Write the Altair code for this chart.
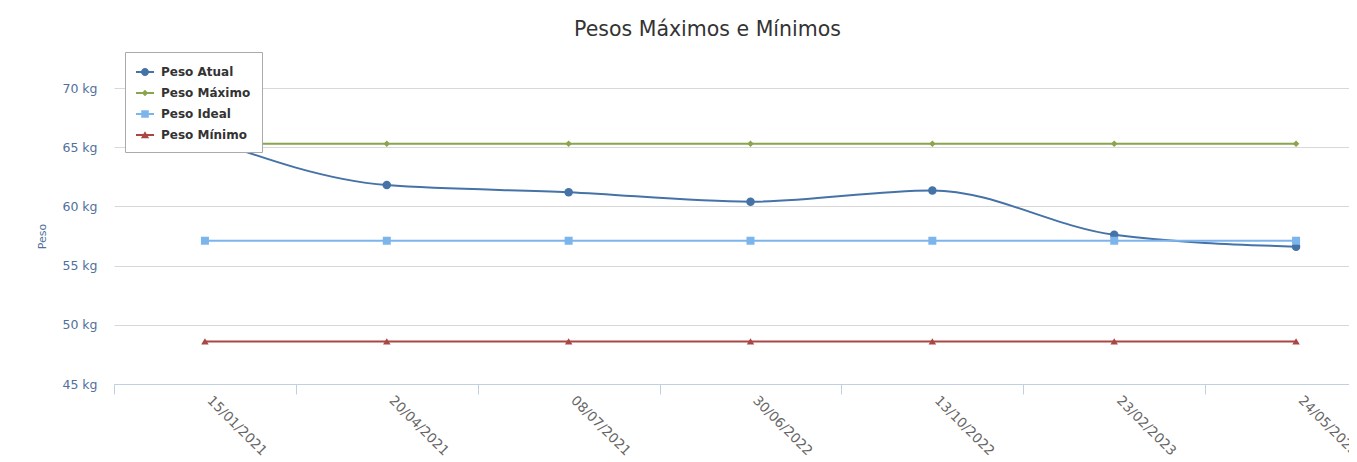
import altair as alt
import pandas as pd

dates = ["15/01/2021", "20/04/2021", "08/07/2021", "30/06/2022", "13/10/2022", "23/02/2023", "24/05/2023"]
peso_atual = [65.8, 61.8, 61.2, 60.4, 61.35, 57.6, 56.6]
peso_maximo = [65.3] * 7
peso_ideal = [57.1] * 7
peso_minimo = [48.6] * 7
series_names = ["Peso Atual", "Peso Máximo", "Peso Ideal", "Peso Mínimo"]
series_colors = ["#4572A7", "#89A54E", "#7CB5EC", "#AA4643"]
series_shapes = ["circle", "diamond", "square", "triangle-up"]
series_sizes = [72, 42, 64, 56]
y_ticks = [45, 50, 55, 60, 65, 70]

# legend symbols: a short line with the marker in its middle
LINE = "M-1,-0.11L1,-0.11L1,0.11L-1,0.11Z"
legend_shapes = [
    LINE + "M-0.44,0A0.44,0.44 0 1,1 0.44,0A0.44,0.44 0 1,1 -0.44,0Z",
    LINE + "M0,-0.36L0.36,0L0,0.36L-0.36,0Z",
    LINE + "M-0.42,-0.42L0.42,-0.42L0.42,0.42L-0.42,0.42Z",
    LINE + "M0,-0.42L0.46,0.36L-0.46,0.36Z",
]

rows = []
for name, vals in zip(series_names, [peso_atual, peso_maximo, peso_ideal, peso_minimo]):
    for d, v in zip(dates, vals):
        rows.append({"data": d, "serie": name, "peso": v})
df = pd.DataFrame(rows)

FONT = "DejaVu Sans"

x = alt.X("data:N", sort=dates,
          scale=alt.Scale(domain=dates, range=[0, 1273], paddingInner=0, paddingOuter=0),
          axis=alt.Axis(title=None, tickBand="extent", labelAngle=45, labelAlign="left",
                        labelBaseline="middle", labelPadding=4, labelOffset=4,
                        labelColor="#666666", labelFontSize=13.5, labelFont=FONT,
                        domainColor="#C0D0E0", tickColor="#C0D0E0", tickSize=10, grid=False))
y = alt.Y("peso:Q", scale=alt.Scale(domain=[45, 70], nice=False, zero=False),
          axis=alt.Axis(title="Peso", values=y_ticks, labelExpr="datum.value + ' kg'",
                        labelColor="#50709c", labelFontSize=12.5, labelFont=FONT,
                        labelPadding=17, ticks=False, domain=False,
                        gridColor="#D8D8D8", titleColor="#50709c", titleFontSize=11,
                        titleFontWeight="normal", titleFont=FONT, titlePadding=14))

layers = []
for name, col, shp, sz in zip(series_names, series_colors, series_shapes, series_sizes):
    base = alt.Chart(df).transform_filter(alt.datum.serie == name)
    layers.append(base.mark_line(interpolate="monotone", strokeWidth=2, color=col).encode(x=x, y=y))
for name, col, shp, sz in zip(series_names, series_colors, series_shapes, series_sizes):
    base = alt.Chart(df).transform_filter(alt.datum.serie == name)
    layers.append(base.mark_point(filled=True, opacity=1, shape=shp, size=sz, color=col).encode(x=x, y=y))

legend_props = dict(title=None, orient="none", legendX=11, legendY=-36,
                    labelFont=FONT, labelFontWeight="bold",
                    labelFontSize=12, labelColor="#333333",
                    symbolSize=324, rowPadding=6, padding=11,
                    labelOffset=7, fillColor="white",
                    strokeColor="#AAAAAA", symbolStrokeWidth=0)

legend_layer = alt.Chart(df).transform_filter("false").mark_point(filled=True, opacity=1).encode(
    x=x, y=y,
    color=alt.Color("serie:N", sort=series_names,
                    scale=alt.Scale(domain=series_names, range=series_colors),
                    legend=alt.Legend(**legend_props)),
    shape=alt.Shape("serie:N", sort=series_names,
                    scale=alt.Scale(domain=series_names, range=legend_shapes),
                    legend=alt.Legend(**legend_props)),
)

chart = alt.layer(*layers, legend_layer).properties(
    width=1235, height=296,
    title=alt.TitleParams("Pesos Máximos e Mínimos", fontSize=20.5, font=FONT,
                          fontWeight="normal", color="#333333", anchor="middle",
                          dx=-24, offset=11),
    autosize=alt.AutoSizeParams(type="none"),
    padding={"left": 106, "top": 80, "right": 0, "bottom": 80},
).configure_view(stroke=None)

chart.save("out.html", embed_options={"renderer": "svg", "actions": False})
